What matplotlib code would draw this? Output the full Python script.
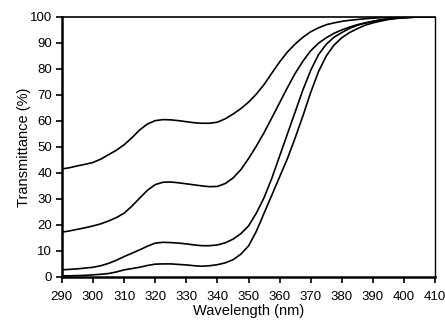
"""
transmittance spectra of four samples, 290-410 nm
"""
import matplotlib.pyplot as plt
import numpy as np

plt.rcParams['font.family'] = ['Liberation Sans', 'DejaVu Sans']

wavelength = np.arange(290, 410.1, 2.5)

trans_a = [41.5, 42.0, 42.7, 43.3, 44.0, 45.3, 47.0, 48.7, 50.8, 53.5,
           56.5, 58.8, 60.1, 60.5, 60.4, 60.1, 59.7, 59.3, 59.1, 59.1,
           59.5, 60.8, 62.6, 64.7, 67.2, 70.3, 74.0, 78.4, 82.7, 86.5,
           89.6, 92.2, 94.3, 95.8, 97.0, 97.7, 98.3, 98.7, 99.0, 99.3,
           99.5, 99.7, 99.8, 99.9, 100.0, 100.0, 100.0, 100.0, 100.0]
trans_b = [17.2, 17.7, 18.3, 18.9, 19.6, 20.4, 21.5, 22.8, 24.5, 27.2,
           30.3, 33.3, 35.5, 36.4, 36.5, 36.2, 35.8, 35.4, 35.0, 34.7,
           34.8, 35.9, 38.0, 41.2, 45.5, 50.3, 55.5, 61.2, 67.0, 72.8,
           78.3, 83.0, 87.0, 89.9, 92.0, 93.7, 95.0, 96.1, 97.0, 97.7,
           98.3, 98.8, 99.2, 99.5, 99.7, 99.9, 100.0, 100.0, 100.0]
trans_c = [2.7, 2.9, 3.1, 3.4, 3.7, 4.3, 5.2, 6.4, 7.8, 9.1,
           10.4, 11.8, 13.0, 13.3, 13.2, 13.0, 12.7, 12.3, 12.0, 12.0,
           12.3, 13.1, 14.5, 16.6, 19.6, 24.5, 30.5, 38.0, 46.5, 55.0,
           63.5, 72.0, 79.5, 85.5, 89.5, 92.2, 94.0, 95.6, 96.8, 97.6,
           98.3, 98.9, 99.3, 99.6, 99.8, 99.9, 100.0, 100.0, 100.0]
trans_d = [0.4, 0.4, 0.5, 0.6, 0.8, 1.0, 1.3, 1.9, 2.7, 3.2,
           3.7, 4.4, 4.9, 5.0, 5.0, 4.8, 4.6, 4.3, 4.1, 4.3,
           4.7, 5.4, 6.6, 8.7, 11.9, 17.5, 24.5, 31.5, 38.5, 45.5,
           53.5, 62.0, 71.0, 79.0, 85.0, 89.2, 92.0, 94.0, 95.5, 96.8,
           97.7, 98.4, 99.0, 99.4, 99.6, 99.8, 100.0, 100.0, 100.0]

xticks = np.arange(290, 411, 10)
yticks = np.arange(0, 101, 10)

fig = plt.figure(figsize=(4.45, 3.25), dpi=100)
ax = fig.add_axes([0.139, 0.148, 0.839, 0.80])

for series in (trans_a, trans_b, trans_c, trans_d):
    ax.plot(wavelength, series, color='black', lw=1.2)

ax.set_xlim(290, 410)
ax.set_ylim(0, 100)
ax.set_xticks(xticks)
ax.set_yticks(yticks)
ax.tick_params(direction='out', length=4, width=1.2, labelsize=9.5, colors='black')
ax.tick_params(axis='x', pad=6)
ax.tick_params(axis='y', pad=3)

ax.spines['left'].set_linewidth(1.8)
ax.spines['bottom'].set_linewidth(1.8)
ax.spines['top'].set_linewidth(1.2)
ax.spines['right'].set_linewidth(1.0)

ax.set_xlabel('Wavelength (nm)', fontsize=10.5, labelpad=1)
ax.set_ylabel('Transmittance (%)', fontsize=10.5, labelpad=-1)

plt.savefig('out.png', dpi=100)
